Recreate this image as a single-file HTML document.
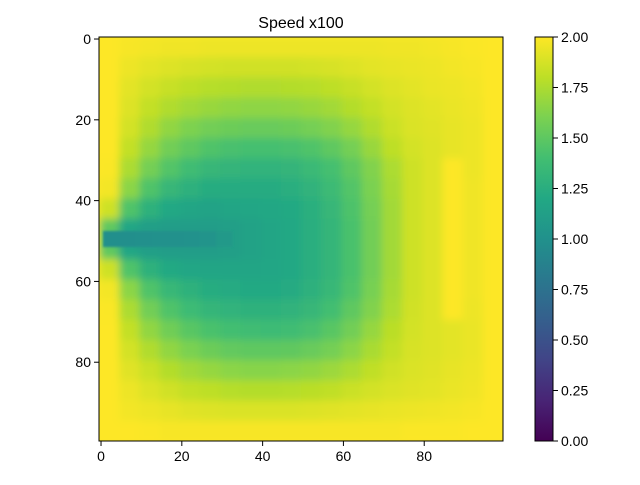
<!DOCTYPE html>
<html><head><meta charset="utf-8"><style>
html,body{margin:0;padding:0;background:#fff;}
svg text{font-family:"Liberation Sans","DejaVu Sans",sans-serif;}
</style></head><body>
<svg id="chart" width="640" height="480" viewBox="0 0 640 480" xmlns="http://www.w3.org/2000/svg">
<defs>
<clipPath id="axclip"><rect x="99" y="37" width="404" height="404"/></clipPath>
<filter id="soft" x="-5%" y="-5%" width="110%" height="110%"><feGaussianBlur stdDeviation="4"/></filter>
<filter id="soft2" x="-5%" y="-50%" width="110%" height="200%"><feGaussianBlur stdDeviation="1"/></filter>
<linearGradient id="cbgrad" x1="0" y1="1" x2="0" y2="0">
<stop offset="0" stop-color="#440154"/><stop offset="0.1" stop-color="#482475"/><stop offset="0.2" stop-color="#414487"/><stop offset="0.3" stop-color="#355f8d"/><stop offset="0.4" stop-color="#2a788e"/><stop offset="0.5" stop-color="#21918c"/><stop offset="0.6" stop-color="#22a884"/><stop offset="0.7" stop-color="#42be71"/><stop offset="0.8" stop-color="#7ad151"/><stop offset="0.9" stop-color="#bddf26"/><stop offset="1" stop-color="#fde725"/>
</linearGradient>
</defs>
<text x="301" y="28" font-size="16" text-anchor="middle">Speed x100</text>
<g id="cells" clip-path="url(#axclip)"><g id="cellsInner" filter="url(#soft)"></g><g id="jetInner" filter="url(#soft2)"></g></g>
<rect x="99" y="37" width="404" height="404" fill="none" stroke="#000" stroke-width="1"/>
<g id="xaxis"></g>
<g id="yaxis"></g>
<rect x="535" y="37" width="18" height="404" fill="url(#cbgrad)" stroke="#000" stroke-width="1"/>
<g id="cbaxis"></g>
</svg>
<script>
const xTicks = [0, 20, 40, 60, 80];
const yTicks = [0, 20, 40, 60, 80];
const cbTicks = [0, 0.25, 0.5, 0.75, 1.0, 1.25, 1.5, 1.75, 2.0];
const vmin = 0, vmax = 2;
const blockSize = 5;
const gridValues = [
[2.0,1.98,1.97,1.96,1.96,1.95,1.95,1.95,1.95,1.95,1.95,1.95,1.95,1.95,1.96,1.96,1.97,1.98,1.99,2.0],
[2.0,1.95,1.92,1.9,1.88,1.87,1.86,1.86,1.86,1.86,1.87,1.88,1.9,1.92,1.93,1.94,1.95,1.97,1.98,2.0],
[2.0,1.92,1.87,1.83,1.8,1.78,1.77,1.76,1.76,1.77,1.78,1.8,1.83,1.87,1.9,1.92,1.94,1.95,1.97,2.0],
[2.0,1.9,1.82,1.76,1.72,1.69,1.67,1.66,1.66,1.67,1.69,1.72,1.77,1.82,1.87,1.9,1.92,1.94,1.96,2.0],
[2.0,1.87,1.76,1.67,1.61,1.57,1.55,1.54,1.54,1.55,1.58,1.62,1.68,1.76,1.84,1.89,1.91,1.93,1.95,2.0],
[2.0,1.82,1.68,1.57,1.5,1.45,1.42,1.41,1.41,1.42,1.45,1.5,1.58,1.69,1.8,1.87,1.9,1.93,1.95,2.0],
[1.99,1.75,1.58,1.46,1.38,1.33,1.31,1.3,1.3,1.31,1.35,1.41,1.5,1.62,1.75,1.85,1.9,2.0,1.95,2.0],
[1.97,1.65,1.45,1.33,1.27,1.24,1.23,1.23,1.23,1.25,1.29,1.36,1.46,1.6,1.73,1.85,1.9,2.0,1.96,2.0],
[1.85,1.45,1.28,1.2,1.17,1.16,1.17,1.18,1.19,1.21,1.26,1.33,1.44,1.58,1.72,1.85,1.9,2.0,1.96,2.0],
[1.5,1.18,1.12,1.1,1.1,1.1,1.12,1.15,1.17,1.2,1.25,1.32,1.43,1.57,1.72,1.85,1.9,2.0,1.96,2.0],
[1.5,1.18,1.12,1.1,1.1,1.1,1.12,1.15,1.17,1.2,1.25,1.32,1.43,1.57,1.72,1.85,1.9,2.0,1.96,2.0],
[1.85,1.45,1.28,1.21,1.18,1.17,1.17,1.17,1.18,1.2,1.25,1.32,1.43,1.57,1.72,1.85,1.9,2.0,1.96,2.0],
[1.97,1.65,1.45,1.34,1.28,1.24,1.22,1.21,1.21,1.22,1.27,1.34,1.45,1.59,1.73,1.85,1.9,2.0,1.96,2.0],
[1.99,1.75,1.57,1.45,1.37,1.32,1.3,1.28,1.28,1.29,1.33,1.4,1.5,1.62,1.75,1.86,1.9,2.0,1.95,2.0],
[2.0,1.82,1.67,1.56,1.48,1.43,1.4,1.38,1.37,1.38,1.42,1.48,1.57,1.68,1.79,1.87,1.9,1.92,1.94,2.0],
[2.0,1.87,1.76,1.67,1.6,1.55,1.52,1.5,1.5,1.51,1.54,1.58,1.65,1.74,1.82,1.88,1.9,1.92,1.94,2.0],
[2.0,1.91,1.84,1.77,1.72,1.68,1.65,1.64,1.64,1.65,1.67,1.7,1.75,1.81,1.86,1.89,1.91,1.93,1.95,2.0],
[2.0,1.95,1.9,1.86,1.82,1.8,1.78,1.77,1.77,1.78,1.79,1.81,1.84,1.87,1.89,1.91,1.92,1.94,1.96,2.0],
[2.0,1.97,1.95,1.93,1.91,1.9,1.89,1.89,1.89,1.89,1.9,1.91,1.92,1.93,1.94,1.95,1.96,1.97,1.98,2.0],
[2.0,2.0,1.99,1.98,1.98,1.98,1.98,1.98,1.98,1.98,1.98,1.98,1.98,1.98,1.98,1.99,1.99,1.99,2.0,2.0]
];
// inlet jet: rows 48..51, blocks of 4 columns starting at column 1
const jetRowStart = 48, jetRowCount = 4, jetColStart = 1, jetBlock = 4;
const jetValues = [0.98, 0.98, 0.99, 1.0, 1.0, 1.01, 1.03, 1.07];
const NS = "http://www.w3.org/2000/svg";
const AX = {x0:99, y0:37, w:404, h:404, n:100};
function xPix(i){ return AX.x0 + (i + 0.5) * AX.w / AX.n; }
function yPix(i){ return AX.y0 + (i + 0.5) * AX.h / AX.n; }
function cellX(i){ return AX.x0 + i * AX.w / AX.n; }
function cellY(i){ return AX.y0 + i * AX.h / AX.n; }
function cbY(v){ return 441 - (v - vmin) / (vmax - vmin) * 404; }
const VIR = [[68,1,84],[72,36,117],[65,68,135],[53,95,141],[42,120,142],[33,145,140],[34,168,132],[66,190,113],[122,209,81],[189,223,38],[253,231,37]];
function viridis(v){
  let t = Math.max(0, Math.min(1, (v - vmin) / (vmax - vmin))) * (VIR.length - 1);
  const i = Math.min(VIR.length - 2, Math.floor(t)); const f = t - i;
  const c = VIR[i].map((a, k) => Math.round(a + (VIR[i+1][k] - a) * f));
  return "rgb(" + c.join(",") + ")";
}
function mk(tag, attrs, parent){ const e = document.createElementNS(NS, tag); for (const k in attrs) e.setAttribute(k, attrs[k]); parent.appendChild(e); return e; }
const cells = document.getElementById("cellsInner");
mk("rect", {x:80, y:18, width:442, height:442, fill:viridis(2.0)}, cells);
gridValues.forEach((row, r) => row.forEach((v, c) => {
  const e = mk("rect", {x:cellX(c*blockSize), y:cellY(r*blockSize), width:AX.w/AX.n*blockSize+0.5, height:AX.h/AX.n*blockSize+0.5, fill:viridis(v)}, cells);
  
  
}));
const jet = document.getElementById("jetInner");
jetValues.forEach((v, k) => {
  const e = mk("rect", {x:cellX(jetColStart + k*jetBlock), y:cellY(jetRowStart), width:AX.w/AX.n*jetBlock+0.5, height:AX.h/AX.n*jetRowCount, fill:viridis(v)}, jet);
  
  
});
const xa = document.getElementById("xaxis");
xTicks.forEach(t => {
  const x = xPix(t);
  const l = mk("line", {x1:x, y1:441, x2:x, y2:446, stroke:"#000"}, xa);
  
  
  const tx = mk("text", {x:x, y:461, "font-size":14, "text-anchor":"middle"}, xa);
  tx.textContent = t;
  
  
});
const ya = document.getElementById("yaxis");
yTicks.forEach(t => {
  const y = yPix(t);
  const l = mk("line", {x1:94, y1:y, x2:99, y2:y, stroke:"#000"}, ya);
  
  
  const tx = mk("text", {x:91, y:y+5, "font-size":14, "text-anchor":"end"}, ya);
  tx.textContent = t;
  
  
});
const cb = document.getElementById("cbaxis");
cbTicks.forEach(t => {
  const y = cbY(t);
  const l = mk("line", {x1:553, y1:y, x2:558, y2:y, stroke:"#000"}, cb);
  
  
  const tx = mk("text", {x:561, y:y+5, "font-size":14}, cb);
  tx.textContent = t.toFixed(2);
  
  
});
</script>
</body></html>
